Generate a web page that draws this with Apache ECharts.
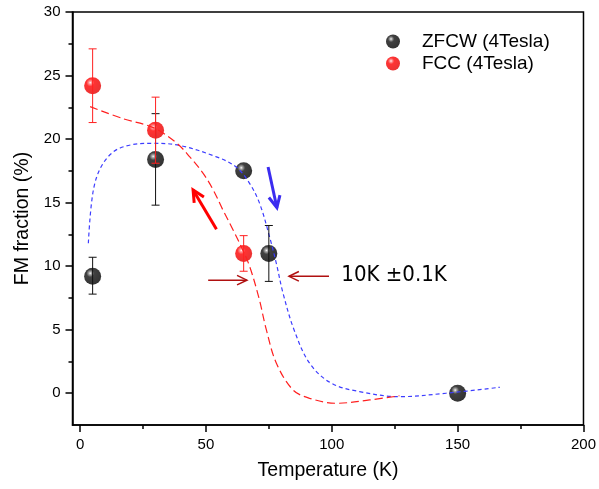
<!DOCTYPE html>
<html>
<head>
<meta charset="utf-8">
<script src="https://cdn.jsdelivr.net/npm/echarts@6/dist/echarts.min.js"></script>
<style>
  html, body { margin: 0; padding: 0; background: #fff; }
  #chart { width: 599px; height: 489px; }
</style>
</head>
<body>
<div id="chart"></div>
<script>
// measured points (temperature in K, FM fraction in %)
var zfcwT = [5, 30, 65, 75, 150];
var zfcwVal = [9.2, 18.4, 17.5, 11.0, 0];
var zfcwLow = [7.8, 14.8, null, 8.8, null];
var zfcwHigh = [10.7, 22.0, null, 13.2, null];

var fccT = [5, 30, 65];
var fccVal = [24.2, 20.7, 11.0];
var fccLow = [21.3, 18.1, 9.6];
var fccHigh = [27.1, 23.3, 12.4];

// dashed guide curves
var zfcwFitT = [3.3, 5.3, 9.2, 15.9, 29, 39.6, 54.2, 62, 67.4, 71.4, 75.3, 78, 80.6, 85, 91.2, 99.8, 111, 126.9, 145.4, 166.8];
var zfcwFitVal = [11.8, 16.0, 18.1, 19.3, 19.67, 19.5, 18.6, 17.8, 16.5, 14.9, 12.3, 10.2, 7.9, 5.0, 2.36, 0.79, 0.13, -0.27, 0.0, 0.47];
var fccFitT = [4, 17.2, 29.1, 38.3, 43.6, 48.9, 52.9, 56.8, 60.8, 64.1, 67.4, 71.1, 74, 78, 84.6, 91.2, 101.8, 115, 126.9];
var fccFitVal = [22.55, 21.6, 20.9, 19.7, 18.6, 17.3, 16.0, 14.4, 12.85, 11.5, 9.96, 7.47, 5.0, 2.36, 0.26, -0.4, -0.79, -0.53, -0.2];

// ticks
var xTicks = [0, 50, 100, 150, 200];
var xMinorTicks = [25, 75, 125, 175];
var yTicks = [0, 5, 10, 15, 20, 25, 30];
var yMinorTicks = [2.5, 7.5, 12.5, 17.5, 22.5, 27.5];

var FONT = "'Liberation Sans', Arial, sans-serif";

function zip(a, b) {
  return a.map(function (v, i) { return [v, b[i]]; });
}

function ball(stops) {
  return new echarts.graphic.RadialGradient(0.36, 0.32, 0.7, stops.map(function (c, i) {
    return { offset: [0, 0.1, 0.32, 1][i], color: c };
  }));
}

function errorBars(name, xs, lo, hi, color) {
  var d = [];
  xs.forEach(function (x, i) {
    if (lo[i] != null) d.push([x, lo[i], hi[i]]);
  });
  return {
    name: name,
    type: 'custom',
    xAxisIndex: 0,
    yAxisIndex: 0,
    z: 6,
    silent: true,
    encode: { x: 0, y: [1, 2] },
    renderItem: function (params, api) {
      var a = api.coord([api.value(0), api.value(1)]);
      var b = api.coord([api.value(0), api.value(2)]);
      var w = 4;
      var st = { stroke: color, lineWidth: 1 };
      return {
        type: 'group',
        children: [
          { type: 'line', shape: { x1: a[0], y1: a[1], x2: b[0], y2: b[1] }, style: st },
          { type: 'line', shape: { x1: a[0] - w, y1: a[1], x2: a[0] + w, y2: a[1] }, style: st },
          { type: 'line', shape: { x1: b[0] - w, y1: b[1], x2: b[0] + w, y2: b[1] }, style: st }
        ]
      };
    },
    data: d
  };
}

var chart = echarts.init(document.getElementById('chart'));

var axisLine = { onZero: false, lineStyle: { color: '#000', width: 1.5 } };

var option = {
  animation: false,
  backgroundColor: '#fff',
  grid: {
    left: 72.5, right: 15, top: 12, bottom: 64,
    show: true, borderColor: '#000', borderWidth: 1.5
  },
  legend: {
    data: ['ZFCW (4Tesla)', 'FCC (4Tesla)'],
    orient: 'vertical',
    left: 381, top: 27,
    itemWidth: 14, itemHeight: 14, itemGap: 3,
    icon: 'circle',
    textStyle: { fontFamily: FONT, fontSize: 19, color: '#000', padding: [0, 0, 0, 17] }
  },
  xAxis: [{
    type: 'value', min: -3, max: 200,
    name: 'Temperature (K)', nameLocation: 'middle', nameGap: 36,
    nameTextStyle: { fontFamily: FONT, fontSize: 19.5, color: '#000' },
    axisLine: axisLine,
    axisTick: { inside: false, length: 7, customValues: xTicks, lineStyle: { color: '#000', width: 1.5 } },
    axisLabel: { customValues: xTicks, margin: 12, fontFamily: FONT, fontSize: 15, color: '#000' },
    splitLine: { show: false }
  }, {
    type: 'value', min: -3, max: 200, position: 'bottom',
    axisLine: { show: false, onZero: false },
    axisTick: { length: 4, customValues: xMinorTicks, lineStyle: { color: '#000', width: 1.5 } },
    axisLabel: { show: false },
    splitLine: { show: false }
  }],
  yAxis: [{
    type: 'value', min: -2.5, max: 30,
    name: 'FM fraction (%)', nameLocation: 'middle', nameGap: 38,
    nameTextStyle: { fontFamily: FONT, fontSize: 19.5, color: '#000' },
    axisLine: axisLine,
    axisTick: { inside: false, length: 7, customValues: yTicks, lineStyle: { color: '#000', width: 1.5 } },
    axisLabel: { customValues: yTicks, margin: 12, fontFamily: FONT, fontSize: 15, color: '#000' },
    splitLine: { show: false }
  }, {
    type: 'value', min: -2.5, max: 30, position: 'left',
    axisLine: { show: false, onZero: false },
    axisTick: { length: 4, customValues: yMinorTicks, lineStyle: { color: '#000', width: 1.5 } },
    axisLabel: { show: false },
    splitLine: { show: false }
  }],
  series: [
    {
      name: 'ZFCW (4Tesla)', type: 'scatter', xAxisIndex: 0, yAxisIndex: 0, z: 3,
      symbolSize: 17,
      itemStyle: { color: ball(['#ffffff', '#9a9a9a', '#111111', '#000000']) },
      data: zip(zfcwT, zfcwVal)
    },
    {
      name: 'FCC (4Tesla)', type: 'scatter', xAxisIndex: 0, yAxisIndex: 0, z: 3,
      symbolSize: 17,
      itemStyle: { color: ball(['#ffffff', '#ff8c8c', '#ff0000', '#e40000']) },
      data: zip(fccT, fccVal)
    },
    {
      name: 'zfcw fit', type: 'line', xAxisIndex: 0, yAxisIndex: 0, z: 4,
      smooth: 0.35, showSymbol: false, silent: true,
      lineStyle: { color: '#3d3dff', width: 1.2, type: [4, 3] },
      data: zip(zfcwFitT, zfcwFitVal)
    },
    {
      name: 'fcc fit', type: 'line', xAxisIndex: 0, yAxisIndex: 0, z: 4,
      smooth: 0.35, showSymbol: false, silent: true,
      lineStyle: { color: '#ff2020', width: 1.2, type: [8, 4] },
      data: zip(fccFitT, fccFitVal)
    },
    errorBars('zfcw err', zfcwT, zfcwLow, zfcwHigh, '#111'),
    errorBars('fcc err', fccT, fccLow, fccHigh, '#ff2020')
  ]
};
chart.setOption(option);

// annotation arrows, anchored in data coordinates
var arrows = [
  { from: [54.2, 12.9], to: [44.9, 16.0], color: '#ff0000', width: 3, head: 13 },
  { from: [74.7, 17.8], to: [78.2, 14.6], color: '#3b2cf0', width: 3, head: 13 },
  { from: [50.9, 8.9], to: [66.3, 8.9], color: '#b01010', width: 1.5, head: 11 },
  { from: [98.9, 9.2], to: [83.0, 9.2], color: '#b01010', width: 1.5, head: 11 }
];

function px(p) {
  return chart.convertToPixel({ xAxisIndex: 0, yAxisIndex: 0 }, p);
}

var elements = [];
arrows.forEach(function (ar) {
  var a = px(ar.from), b = px(ar.to);
  var ang = Math.atan2(a[1] - b[1], a[0] - b[0]);
  var s = 0.45;
  var h1 = [b[0] + ar.head * Math.cos(ang + s), b[1] + ar.head * Math.sin(ang + s)];
  var h2 = [b[0] + ar.head * Math.cos(ang - s), b[1] + ar.head * Math.sin(ang - s)];
  elements.push({
    type: 'line', z: 10,
    shape: { x1: a[0], y1: a[1], x2: b[0], y2: b[1] },
    style: { stroke: ar.color, lineWidth: ar.width }
  });
  elements.push({
    type: 'polyline', z: 10,
    shape: { points: [h1, b, h2] },
    style: { stroke: ar.color, lineWidth: ar.width, fill: null }
  });
});

var labelPos = px([103.8, 9.3]);
elements.push({
  type: 'text', z: 10,
  x: labelPos[0], y: labelPos[1],
  style: {
    text: '10K \u00b10.1K',
    fill: '#000',
    font: "22px 'DejaVu Sans Condensed', 'DejaVu Sans', sans-serif",
    verticalAlign: 'middle', align: 'left'
  }
});

chart.setOption({ graphic: { elements: elements } });
</script>
</body>
</html>
